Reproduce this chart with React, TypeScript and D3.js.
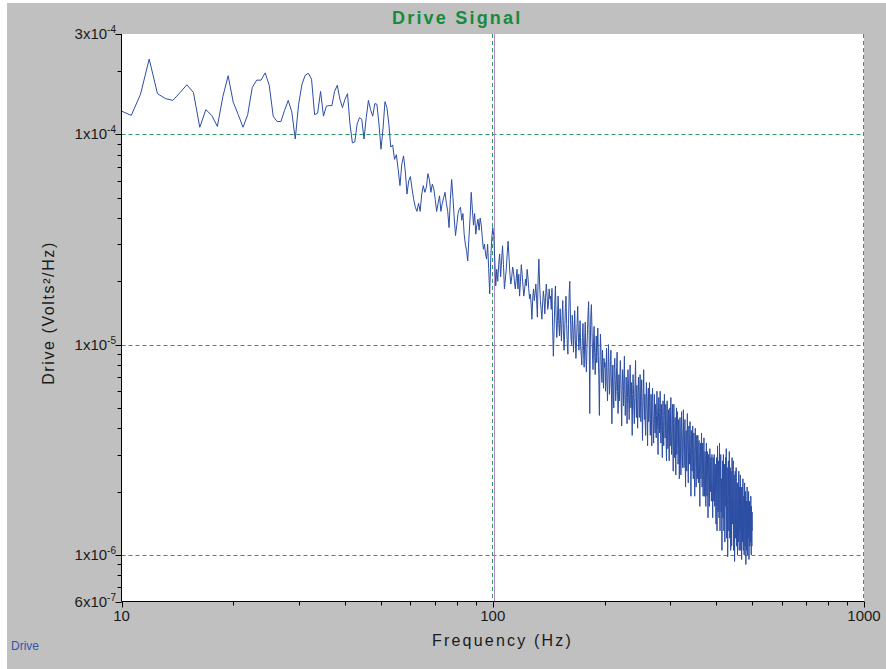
import React from "react";
import * as d3 from "d3";

// Drive PSD, values in units of 1e-6 Volts²/Hz, one per 0.625 Hz starting at 10 Hz
const freqStart = 10;
const freqStep = 0.625;

const driveLow: number[] = [
  129,123,155,228,156,148,145,158,172,158,
  108,131,123,109,151,190,142,124,108,124,
  167,181,181,196,171,122,115,115,130,145,
  128,95,139,173,191,195,183,124,126,160,
  122,136,137,137,160,171,147,134,147,156,
  112,91,92,112,120,118,95,120,145,131,
  122,140,139,112,85,106,143,134,112,87,
  89,76,80,
];

const driveMid: number[] = [
  68,57,72,79,67,52,60,63,55,49,
  45,43,47,43,52,57,53,56,65,61,
  53,58,55,49,43,47,51,43,47,50,
  53,47,43,36,49,61,50,40,33,37,
  42,44,45,39,42,33.5,30,28,25,32,
  40,53,44,37,42,33.5,37,39.5,35,40,
  37,32,28.4,30,27,25.5,30,23,17.4,25.5,
  32,36,
];

const drive100to200: number[] = [
  33,25.5,19,22.8,20,24,27,
  21,25,29.5,24,18.4,20.5,22.8,27,31,26,
  21.6,19.4,21,23.4,22.2,20,18.4,20.5,22.8,18.4,21.6,17,
  20,24,21.6,19,17,18.4,20.5,19,22.8,21,18.4,16.5,17.4,
  15.6,13.2,16.5,18.4,16.2,17.4,19.4,16.5,13.5,20.5,25.5,19.4,16.2,
  14.7,13.2,15.6,18,16.5,14,16.8,19.4,17.4,14.7,15.6,18.4,16.5,17,
  14.7,18.5,12.0,8.8,11.5,15.5,19.0,13.5,10.8,13.0,17.0,12.6,11.0,14.8,12.4,
  10.4,13.6,16.2,11.8,9.4,11.5,15.0,17.0,12.6,10.2,9.0,12.5,17.5,20.0,14.0,10.6,
  10.0,13.8,12.0,9.2,11.6,14.5,10.6,8.6,10.2,12.6,15.2,11.4,9.4,10.8,13.0,9.8,8.9,
  8.0,10.8,12.6,9.4,7.8,10.4,12.8,8.8,7.4,9.6,11.8,14.2,16.0,11.0,4.7,10.0,13.8,15.5,
  12.0,9.0,7.6,10.4,12.2,9.2,7.2,8.8,11.0,8.2,9.6,12.0,8.8,6.8,4.6,7.8,11.2,9.6,7.4,6.6,9.4,7.6,6.2,8.6,7.8,
];

const drive200to300: number[] = [
  8.2,6.0,7.4,9.6,6.5,5.4,7.2,10.0,7.8,5.8,
  6.6,8.4,9.4,6.2,4.2,6.3,8.0,5.6,5.0,7.6,
  8.6,6.8,5.4,6.0,7.8,9.2,6.0,4.7,5.5,7.2,
  5.4,6.9,8.4,7.2,5.3,4.1,6.0,7.6,6.6,5.1,
  6.9,8.8,5.8,4.6,5.4,7.0,6.2,4.2,5.6,7.6,
  6.9,5.2,4.4,5.8,8.0,6.3,5.0,6.6,5.0,3.7,
  5.8,7.2,6.2,4.8,4.2,5.6,6.9,8.4,5.2,4.5,
  6.4,5.2,4.0,5.6,7.0,5.9,4.5,5.0,7.2,5.4,
  4.3,5.9,6.8,5.0,3.5,4.9,6.2,7.6,5.2,4.4,
  5.8,4.2,3.7,5.3,6.6,5.4,4.4,3.3,5.6,6.2,
  4.3,5.3,6.6,4.7,3.7,4.4,5.8,4.9,3.3,5.4,
  6.2,4.8,4.0,3.4,4.7,5.8,4.2,3.8,5.2,4.4,
  3.6,4.6,6.0,5.0,3.9,3.0,4.3,5.6,4.7,3.8,
  5.0,6.0,4.1,3.4,4.4,5.2,3.7,2.9,4.6,5.4,
  3.9,3.3,4.4,5.8,4.7,3.6,4.0,5.2,3.4,2.8,
  4.6,5.4,3.7,3.2,4.0,4.9,3.5,2.8,4.2,5.0,
];

const drive300to400: number[] = [
  3.3,4.8,5.6,3.9,3.0,3.5,4.6,5.2,3.3,2.5,
  4.2,5.2,3.6,2.9,3.4,4.5,3.2,2.4,4.0,5.0,
  3.0,3.6,4.8,4.1,2.7,3.2,4.4,3.7,2.3,3.3,
  4.5,3.8,2.8,2.4,3.4,4.8,3.9,3.0,2.6,3.6,
  4.0,4.9,3.3,2.6,2.9,3.8,4.4,2.8,2.1,3.2,
  3.9,3.0,2.5,3.5,4.7,3.6,2.8,2.2,3.1,4.1,
  3.6,2.7,3.2,4.3,3.3,2.5,1.9,2.9,3.9,3.2,
  2.5,3.3,4.1,2.9,2.3,2.8,3.8,3.3,2.4,1.9,
  3.0,4.0,3.4,2.6,2.1,2.8,3.7,3.2,2.3,3.0,
  3.7,2.8,2.2,2.7,3.5,3.1,2.4,1.7,2.6,3.4,
  2.9,2.3,2.9,3.8,2.8,2.1,2.5,3.4,2.6,1.9,
  2.4,3.2,3.6,2.5,1.9,2.3,3.1,2.8,2.1,1.7,
  2.8,3.4,2.4,1.9,2.5,3.1,2.3,1.5,2.2,3.0,
  2.6,2.1,1.7,2.4,3.2,2.7,2.0,2.3,2.9,2.1,
  1.8,2.3,3.0,2.5,1.9,1.5,2.2,2.9,2.4,1.8,
  2.5,3.0,2.1,1.7,2.0,2.7,2.3,1.7,1.4,2.2,
];

const drive400to500: number[] = [
  2.9,1.7,1.3,2.1,3.3,2.5,1.6,1.9,2.8,2.2,
  1.5,2.4,3.4,2.0,1.3,1.8,2.7,3.0,1.9,1.6,
  2.3,1.4,1.05,1.7,2.8,2.2,1.5,2.5,3.0,1.8,
  1.3,2.0,2.7,1.8,1.15,1.6,2.4,2.9,1.7,2.2,
  3.2,1.7,1.2,2.0,2.6,1.5,0.98,1.6,2.4,2.8,
  1.9,1.3,2.2,3.1,1.7,1.2,1.9,2.6,1.5,1.05,
  1.7,2.5,1.6,1.1,1.9,2.9,2.1,1.4,1.6,2.3,
  2.8,1.5,1.05,1.8,2.4,1.6,0.93,1.4,2.2,2.5,
  1.6,1.2,1.9,2.6,1.7,1.1,1.5,2.2,1.4,1.0,
  1.5,2.2,1.7,1.15,1.8,2.5,1.4,1.05,1.7,2.1,
  1.3,1.9,2.4,1.5,1.05,1.4,2.1,1.7,0.95,1.3,
  2.1,1.4,1.15,1.7,2.3,1.5,1.05,1.4,1.9,1.3,
  1.0,1.6,2.2,1.5,1.1,1.3,2.0,1.6,0.9,1.2,
  1.8,1.3,1.05,1.6,2.1,1.4,1.0,1.3,1.8,1.2,
  1.4,2.0,1.2,0.95,1.3,1.8,1.5,1.1,1.7,1.3,
  1.15,1.6,1.9,1.25,1.0,1.7,1.35,1.1,1.6,1.3,
];

const driveE6: number[] = [
  ...driveLow, ...driveMid, ...drive100to200,
  ...drive200to300, ...drive300to400, ...drive400to500,
];

const xTickValues = [10, 100, 1000];
const xTickLabels = ["10", "100", "1000"];
const yTickValues = [3e-4, 1e-4, 1e-5, 1e-6, 6e-7];
const yTickMantissa = ["3", "1", "1", "1", "6"];
const yTickExponent = ["-4", "-4", "-5", "-6", "-7"];
const yGridValues = [1e-4, 1e-5, 1e-6];
const xGridValues = [100, 1000];
const cursorFreq = 100.7;

const W = 886;
const H = 669;
const left = 121.5;
const right = 864;
const top = 34;
const bottom = 601.5;

const FONT = "'Liberation Sans', Arial, sans-serif";

export default function App() {
  const x = d3.scaleLog().domain([10, 1000]).range([left, right]);
  const y = d3.scaleLog().domain([6e-7, 3e-4]).range([bottom, top]);

  const points: [number, number][] = driveE6.map((v, i) => [freqStart + i * freqStep, v * 1e-6]);
  const line = d3
    .line<[number, number]>()
    .x((d) => x(d[0]))
    .y((d) => y(d[1]));

  const yMinor: number[] = [];
  [1e-7, 1e-6, 1e-5, 1e-4].forEach((dec) => {
    for (let k = 2; k <= 9; k++) {
      const v = k * dec;
      if (v > 6e-7 && v < 3e-4) yMinor.push(v);
    }
  });
  const xMinor: number[] = [];
  [10, 100].forEach((dec) => {
    for (let k = 2; k <= 9; k++) xMinor.push(k * dec);
  });

  const grid = "#2f9a66";

  return (
    <svg
      width={W}
      height={H}
      style={{ position: "absolute", left: 0, top: 0, background: "#ffffff" }}
      fontFamily={FONT}
    >
      <rect x={7} y={3} width={W - 7} height={H - 3} fill="#c0c0c0" />
      <rect x={left} y={top} width={right - left} height={bottom - top} fill="#ffffff" />

      {/* title */}
      <text x={392} y={24} fontSize={18} fontWeight="bold" fill="#178a3e" letterSpacing={2.2}>
        Drive Signal
      </text>

      {/* grid */}
      {yGridValues.map((v) => (
        <line key={"gy" + v} x1={left} x2={right} y1={Math.round(y(v)) + 0.5} y2={Math.round(y(v)) + 0.5}
          stroke={grid} strokeWidth={1} strokeDasharray="4,3" />
      ))}
      {xGridValues.map((v) => (
        <line key={"gx" + v} x1={Math.round(x(v)) - 0.5} x2={Math.round(x(v)) - 0.5} y1={top} y2={bottom}
          stroke={grid} strokeWidth={1} strokeDasharray="4,3" />
      ))}

      {/* cursor */}
      <line x1={Math.round(x(cursorFreq)) + 0.5} x2={Math.round(x(cursorFreq)) + 0.5} y1={top} y2={bottom}
        stroke="#b389c6" strokeWidth={1} />

      {/* data */}
      <path d={line(points) || ""} fill="none" stroke="#2c4ea3" strokeWidth={1} strokeLinejoin="round" />

      {/* axes */}
      <line x1={left} x2={left} y1={top} y2={bottom} stroke="#000" strokeWidth={1} />
      <line x1={left} x2={right} y1={bottom} y2={bottom} stroke="#000" strokeWidth={1} />

      {yMinor.map((v) => (
        <line key={"ym" + v} x1={left - 4} x2={left} y1={Math.round(y(v)) + 0.5} y2={Math.round(y(v)) + 0.5}
          stroke="#000" strokeWidth={1} />
      ))}
      {yTickValues.map((v, i) => (
        <g key={"yt" + i}>
          <line x1={left - 6} x2={left} y1={Math.round(y(v)) + 0.5} y2={Math.round(y(v)) + 0.5} stroke="#000" strokeWidth={1} />
          <text x={116} y={y(v) + 5} textAnchor="end" fontSize={15} fill="#1a1a1a">
            {yTickMantissa[i] + "x10"}
            <tspan dy={-6} fontSize={10}>{yTickExponent[i]}</tspan>
          </text>
        </g>
      ))}

      {xMinor.map((v) => (
        <line key={"xm" + v} x1={Math.round(x(v)) + 0.5} x2={Math.round(x(v)) + 0.5} y1={bottom} y2={bottom + 4}
          stroke="#000" strokeWidth={1} />
      ))}
      {xTickValues.map((v, i) => (
        <g key={"xt" + i}>
          <line x1={Math.round(x(v)) + 0.5} x2={Math.round(x(v)) + 0.5} y1={bottom} y2={bottom + 6} stroke="#000" strokeWidth={1} />
          <text x={x(v)} y={621} textAnchor="middle" fontSize={15} fill="#1a1a1a">
            {xTickLabels[i]}
          </text>
        </g>
      ))}

      {/* axis titles */}
      <text x={432} y={646} fontSize={16} letterSpacing={2.2} fill="#1a1a1a">
        Frequency  (Hz)
      </text>
      <text transform="translate(54,313) rotate(-90)" textAnchor="middle" fontSize={16} letterSpacing={1.6} fill="#1a1a1a">
        Drive (Volts²/Hz)
      </text>

      {/* legend */}
      <text x={11} y={650} fontSize={12} fill="#3355aa">
        Drive
      </text>
    </svg>
  );
}
